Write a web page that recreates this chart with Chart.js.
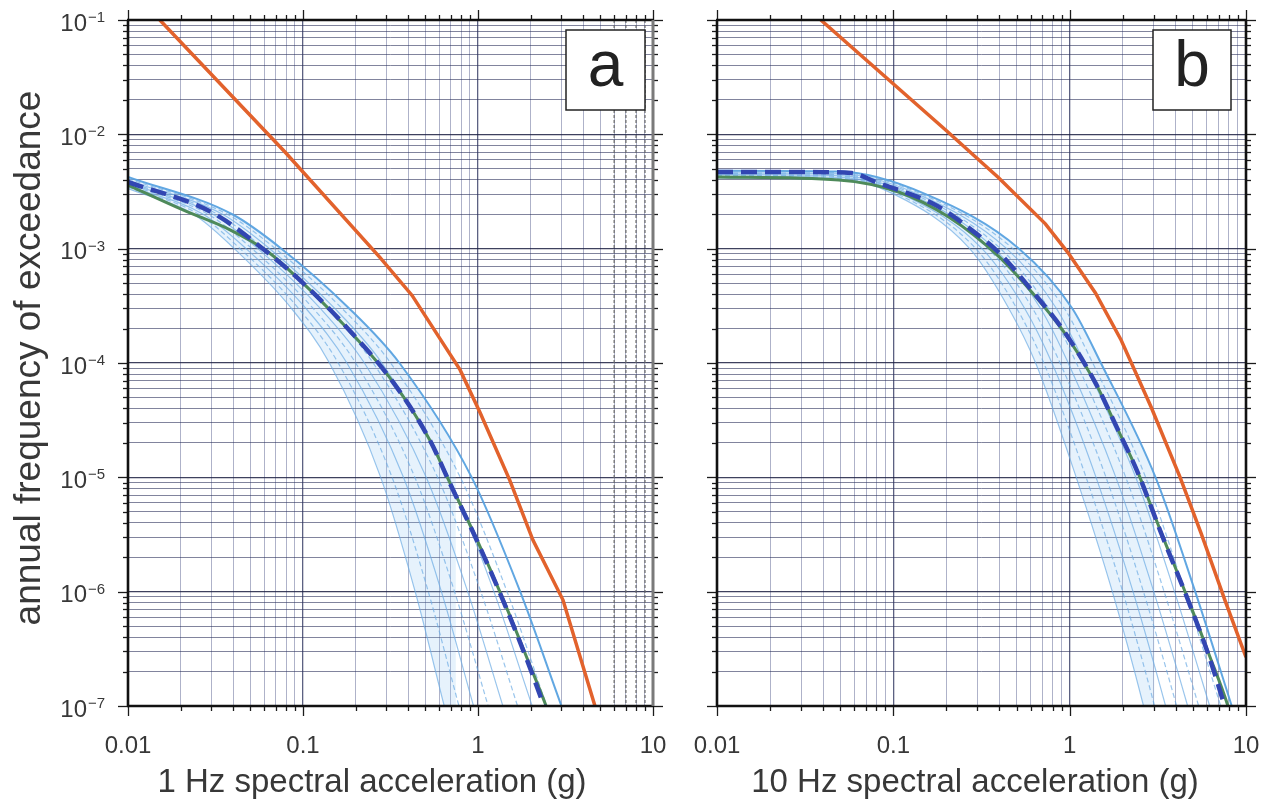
<!DOCTYPE html>
<html>
<head>
<meta charset="utf-8">
<title>Hazard curves</title>
<script src="https://cdn.jsdelivr.net/npm/chart.js@4.4.0/dist/chart.umd.min.js"></script>
<style>
  html, body { margin: 0; padding: 0; background: #fff; }
  #wrap { position: relative; width: 1270px; height: 802px; }
  canvas { position: absolute; top: 0; }
  #cA { left: 0; }
  #cB { left: 668px; }
</style>
</head>
<body>
<div id="wrap">
  <canvas id="cA" width="668" height="802"></canvas>
  <canvas id="cB" width="602" height="802"></canvas>
</div>
<script>
// ---- axes ----
var xDecades = [0.01, 0.1, 1, 10];
var xLabels = ['0.01', '0.1', '1', '10'];
var yDecades = [1e-7, 1e-6, 1e-5, 1e-4, 1e-3, 1e-2, 1e-1];
var yExp = ['\u22127', '\u22126', '\u22125', '\u22124', '\u22123', '\u22122', '\u22121'];

// ---- 1 Hz panel (a) ----
var redA_x = [0.0152, 0.0789, 0.275, 0.42, 0.79, 1.03, 1.52, 2.06, 3.06, 4.66];
var redA_y = [1e-1, 7.0e-3, 8.4e-4, 3.9e-4, 8.7e-5, 3.65e-5, 9.4e-6, 2.83e-6, 8.45e-7, 1.0e-7];

var meanA_x = [0.01, 0.0306, 0.063, 0.0924, 0.169, 0.327, 0.532, 0.69, 0.986, 1.39, 1.91, 2.35, 2.6];
var meanA_y = [3.83e-3, 2.05e-3, 9.2e-4, 5.6e-4, 2.23e-4, 6.8e-5, 2.1e-5, 8.9e-6, 2.8e-6, 8.4e-7, 2.5e-7, 1.06e-7, 7e-8];

var medA_x = [0.01, 0.0206, 0.0383, 0.063, 0.0924, 0.169, 0.327, 0.532, 0.69, 0.986, 1.39, 1.91, 2.45, 2.7];
var medA_y = [3.6e-3, 2.18e-3, 1.46e-3, 9.4e-4, 5.6e-4, 2.2e-4, 6.8e-5, 2.1e-5, 9.0e-6, 2.85e-6, 8.6e-7, 2.6e-7, 1.0e-7, 6.5e-8];

// individual branches: y at the left edge, then x where each branch crosses each level
var fanA_startX = [0.01];
var fanA_start = [[3.35e-3], [3.45e-3], [3.55e-3], [3.65e-3], [3.75e-3], [3.85e-3], [3.95e-3], [4.1e-3], [4.25e-3]];
var fanA_levels = [2e-3, 1e-3, 3e-4, 1e-4, 1e-5, 1e-6, 1e-7, 4e-8];
var fanA_x = [
  [0.0237, 0.0253, 0.0269, 0.0287, 0.0306, 0.0325, 0.0347, 0.0369, 0.0394],
  [0.0405, 0.0437, 0.0473, 0.0511, 0.0552, 0.0597, 0.0645, 0.0697, 0.0753],
  [0.0859, 0.0944, 0.1039, 0.1143, 0.1256, 0.138, 0.1519, 0.1671, 0.1837],
  [0.1416, 0.1589, 0.1782, 0.2, 0.2244, 0.2518, 0.2825, 0.317, 0.3556],
  [0.278, 0.3228, 0.375, 0.4355, 0.5058, 0.5875, 0.6823, 0.7925, 0.9204],
  [0.4375, 0.52, 0.618, 0.7345, 0.873, 1.0375, 1.233, 1.466, 1.742],
  [0.6412, 0.778, 0.943, 1.143, 1.387, 1.683, 2.04, 2.472, 2.999],
  [0.7464, 0.9131, 1.117, 1.366, 1.671, 2.044, 2.5, 3.058, 3.741]
];

// ---- 10 Hz panel (b) ----
var redB_x = [0.0388, 0.198, 0.394, 0.728, 0.98, 1.40, 1.96, 2.90, 4.23, 5.56, 7.6, 10];
var redB_y = [1e-1, 1.09e-2, 4.2e-3, 1.65e-3, 9.2e-4, 4.1e-4, 1.58e-4, 4.1e-5, 1.0e-5, 3.25e-6, 8.4e-7, 2.67e-7];

var meanB_x = [0.01, 0.03, 0.058, 0.0794, 0.165, 0.206, 0.277, 0.394, 0.607, 0.944, 1.40, 1.88, 2.44, 3.30, 4.69, 6.08, 7.60, 8.5];
var meanB_y = [4.69e-3, 4.69e-3, 4.58e-3, 3.83e-3, 2.51e-3, 2.05e-3, 1.46e-3, 9.35e-4, 4.35e-4, 1.83e-4, 6.7e-5, 2.6e-5, 1.09e-5, 3.26e-6, 8.45e-7, 2.9e-7, 9.8e-8, 5.5e-8];

var medB_x = [0.01, 0.049, 0.107, 0.206, 0.394, 0.607, 0.944, 1.40, 1.88, 2.44, 3.30, 4.69, 6.08, 7.9, 8.8];
var medB_y = [4.24e-3, 3.99e-3, 3.13e-3, 1.89e-3, 8.6e-4, 4.2e-4, 1.8e-4, 6.7e-5, 2.6e-5, 1.1e-5, 3.3e-6, 8.6e-7, 3.0e-7, 1.0e-7, 5.5e-8];

var fanB_startX = [0.01, 0.05];
var fanB_start = [
  [4.15e-3, 4.05e-3], [4.22e-3, 4.12e-3], [4.3e-3, 4.2e-3], [4.38e-3, 4.28e-3], [4.45e-3, 4.36e-3],
  [4.53e-3, 4.44e-3], [4.6e-3, 4.52e-3], [4.7e-3, 4.62e-3], [4.8e-3, 4.72e-3]
];
var fanB_levels = [3e-3, 1e-3, 3e-4, 1e-4, 1e-5, 1e-6, 1e-7, 4e-8];
var fanB_x = [
  [0.1007, 0.106, 0.1117, 0.1176, 0.1239, 0.1305, 0.1374, 0.1447, 0.1524],
  [0.271, 0.2938, 0.3184, 0.3451, 0.3741, 0.4055, 0.4395, 0.4764, 0.5164],
  [0.4519, 0.5012, 0.5559, 0.6166, 0.6839, 0.7586, 0.8414, 0.9333, 1.035],
  [0.6412, 0.7132, 0.7935, 0.8824, 0.9817, 1.092, 1.215, 1.351, 1.503],
  [1.089, 1.239, 1.411, 1.607, 1.828, 2.08, 2.369, 2.698, 3.069],
  [1.746, 1.999, 2.288, 2.62, 2.999, 3.434, 3.931, 4.501, 5.152],
  [2.624, 3.03, 3.499, 4.042, 4.667, 5.39, 6.223, 7.187, 8.299],
  [3.027, 3.516, 4.083, 4.742, 5.508, 6.397, 7.43, 8.63, 10.02]
];

var FONT = '"Liberation Sans", Arial, Helvetica, sans-serif';
var TEXT = '#383838';
var FAN_FIRST = 3; // fan datasets come after red, mean and median

function isDecade(v) {
  var l = Math.log10(v);
  return Math.abs(l - Math.round(l)) < 1e-6;
}

// 1..9 x each decade, for grid lines and tick marks
function logTicks(decades) {
  var out = [];
  decades.forEach(function (d, i) {
    if (i === decades.length - 1) { out.push(d); return; }
    for (var m = 1; m < 10; m++) out.push(d * m);
  });
  return out;
}
var xTickValues = logTicks(xDecades);
var yTickValues = logTicks(yDecades);

function pairs(xs, ys) {
  return xs.map(function (x, i) { return { x: x, y: ys[i] }; });
}

function fanSets(startX, start, levels, xs) {
  var last = start.length - 1;
  return start.map(function (ys, j) {
    var pts = startX.map(function (x, k) { return { x: x, y: ys[k] }; });
    levels.forEach(function (lv, i) { pts.push({ x: xs[i][j], y: lv }); });
    return {
      data: pts,
      borderColor: j === last ? 'rgba(88,162,224,0.95)' : 'rgba(110,172,228,0.7)',
      borderWidth: j === last ? 2 : 1.2,
      borderDash: (j % 2 && j !== last) ? [5, 3] : [],
      cubicInterpolationMode: 'monotone',
      pointRadius: 0,
      // light band between the outermost branches
      fill: j === last ? FAN_FIRST : false,
      backgroundColor: 'rgba(140,195,240,0.22)'
    };
  });
}

function curveSets(red, mean, med) {
  return [
    { data: red, borderColor: '#e2622c', borderWidth: 3.5, tension: 0, pointRadius: 0, fill: false },
    { data: mean, borderColor: '#3246b2', borderWidth: 4.5, borderDash: [16, 8], cubicInterpolationMode: 'monotone', pointRadius: 0, fill: false },
    { data: med, borderColor: '#4e8a5a', borderWidth: 3, cubicInterpolationMode: 'monotone', pointRadius: 0, fill: false }
  ];
}

function line(ctx, x1, y1, x2, y2) {
  ctx.beginPath(); ctx.moveTo(x1, y1); ctx.lineTo(x2, y2); ctx.stroke();
}

// frame, outside tick marks, exponent labels, titles and the panel letter
var decor = {
  id: 'decor',
  afterDraw: function (chart, args, o) {
    var ctx = chart.ctx, a = chart.chartArea, x = chart.scales.x, y = chart.scales.y;
    ctx.save();

    if (o.grayEdge) {
      ctx.strokeStyle = 'rgba(105,105,105,0.75)';
      ctx.lineWidth = 1.6;
      ctx.setLineDash([3, 2]);
      [6, 7, 8, 9].forEach(function (v) {
        var px = x.getPixelForValue(v);
        line(ctx, px, a.top, px, a.bottom);
      });
      ctx.setLineDash([]);
    }

    ctx.strokeStyle = '#1b1b1b';
    ctx.lineWidth = 1.3;
    xTickValues.forEach(function (v) {
      var px = Math.round(x.getPixelForValue(v)) + 0.5;
      var len = isDecade(v) ? 10 : 5;
      line(ctx, px, a.bottom, px, a.bottom + len);
      line(ctx, px, a.top, px, a.top - len);
    });
    yTickValues.forEach(function (v) {
      var py = Math.round(y.getPixelForValue(v)) + 0.5;
      var len = isDecade(v) ? 10 : 5;
      line(ctx, a.left, py, a.left - len, py);
      line(ctx, a.right, py, a.right + len, py);
    });

    ctx.strokeStyle = '#111';
    ctx.lineWidth = 2.6;
    line(ctx, a.left, a.top, a.left, a.bottom);
    line(ctx, a.left - 1, a.top, a.right + 1, a.top);
    line(ctx, a.left - 1, a.bottom, a.right + 1, a.bottom);
    if (o.grayEdge) { ctx.strokeStyle = '#7a7a7a'; ctx.lineWidth = 3; }
    line(ctx, a.right, a.top, a.right, a.bottom);

    ctx.fillStyle = TEXT;
    if (o.yLabels) {
      yDecades.forEach(function (v, i) {
        var py = y.getPixelForValue(v);
        ctx.font = '24px ' + FONT;
        ctx.textAlign = 'right';
        ctx.textBaseline = 'middle';
        ctx.fillText('10', 87, py + 4);
        ctx.font = '15px ' + FONT;
        ctx.textAlign = 'left';
        ctx.fillText(yExp[i], 88, py - 2);
      });
      ctx.save();
      ctx.font = '37px ' + FONT;
      ctx.textAlign = 'center';
      ctx.textBaseline = 'middle';
      ctx.translate(30, 358);
      ctx.rotate(-Math.PI / 2);
      ctx.fillText(o.yTitle, 0, 0);
      ctx.restore();
    }

    ctx.font = '33px ' + FONT;
    ctx.textAlign = 'center';
    ctx.textBaseline = 'middle';
    ctx.fillText(o.xTitle, o.xTitleX, 783);

    var b = o.box;
    ctx.fillStyle = '#fff';
    ctx.fillRect(b[0], b[1], b[2], b[3]);
    ctx.strokeStyle = '#222';
    ctx.lineWidth = 1.5;
    ctx.strokeRect(b[0], b[1], b[2], b[3]);
    ctx.fillStyle = '#222';
    ctx.font = '64px ' + FONT;
    ctx.fillText(o.letter, b[0] + b[2] / 2, b[1] + b[3] / 2 - 2);

    ctx.restore();
  }
};

function gridStyle(major, minor) {
  return {
    drawTicks: false,
    color: function (c) { return c.tick && isDecade(c.tick.value) ? major : minor; },
    lineWidth: function (c) { return c.tick && isDecade(c.tick.value) ? 1.3 : 1; }
  };
}

function makeChart(id, datasets, yWidth, pad, deco) {
  var ctx = document.getElementById(id).getContext('2d');
  return new Chart(ctx, {
    type: 'line',
    data: { datasets: datasets },
    options: {
      responsive: false,
      animation: false,
      devicePixelRatio: 1,
      layout: { padding: pad },
      plugins: {
        legend: { display: false },
        tooltip: { enabled: false },
        decor: deco
      },
      scales: {
        x: {
          type: 'logarithmic',
          min: 0.01,
          max: 10,
          afterBuildTicks: function (s) { s.ticks = xTickValues.map(function (v) { return { value: v }; }); },
          afterFit: function (s) {
            s.height = 96;
            s.paddingLeft = 0;
            s.paddingRight = 0;
          },
          grid: gridStyle('rgba(38,44,88,0.75)', 'rgba(75,85,135,0.45)'),
          border: { display: false },
          ticks: {
            autoSkip: false,
            maxRotation: 0,
            minRotation: 0,
            padding: 26,
            color: TEXT,
            font: { family: FONT, size: 24 },
            callback: function (v) {
              var i = xDecades.findIndex(function (d) { return Math.abs(d - v) / d < 1e-6; });
              return i >= 0 ? xLabels[i] : '';
            }
          }
        },
        y: {
          type: 'logarithmic',
          min: 1e-7,
          max: 0.1,
          afterBuildTicks: function (s) { s.ticks = yTickValues.map(function (v) { return { value: v }; }); },
          afterFit: function (s) {
            s.width = yWidth;
            s.paddingTop = 0;
            s.paddingBottom = 0;
          },
          grid: gridStyle('rgba(28,32,66,0.85)', 'rgba(45,50,92,0.6)'),
          border: { display: false },
          ticks: { display: false }
        }
      }
    },
    plugins: [decor]
  });
}

var setsA = curveSets(pairs(redA_x, redA_y), pairs(meanA_x, meanA_y), pairs(medA_x, medA_y))
  .concat(fanSets(fanA_startX, fanA_start, fanA_levels, fanA_x));
var setsB = curveSets(pairs(redB_x, redB_y), pairs(meanB_x, meanB_y), pairs(medB_x, medB_y))
  .concat(fanSets(fanB_startX, fanB_start, fanB_levels, fanB_x));

makeChart('cA', setsA, 128, { left: 0, right: 15, top: 20, bottom: 0 }, {
  letter: 'a',
  box: [566, 30, 79, 80],
  yLabels: true,
  yTitle: 'annual frequency of exceedance',
  xTitle: '1 Hz spectral acceleration (g)',
  xTitleX: 372,
  grayEdge: true
});

makeChart('cB', setsB, 49, { left: 0, right: 24, top: 20, bottom: 0 }, {
  letter: 'b',
  box: [485, 30, 78, 80],
  yLabels: false,
  xTitle: '10 Hz spectral acceleration (g)',
  xTitleX: 307,
  grayEdge: false
});
</script>
</body>
</html>
